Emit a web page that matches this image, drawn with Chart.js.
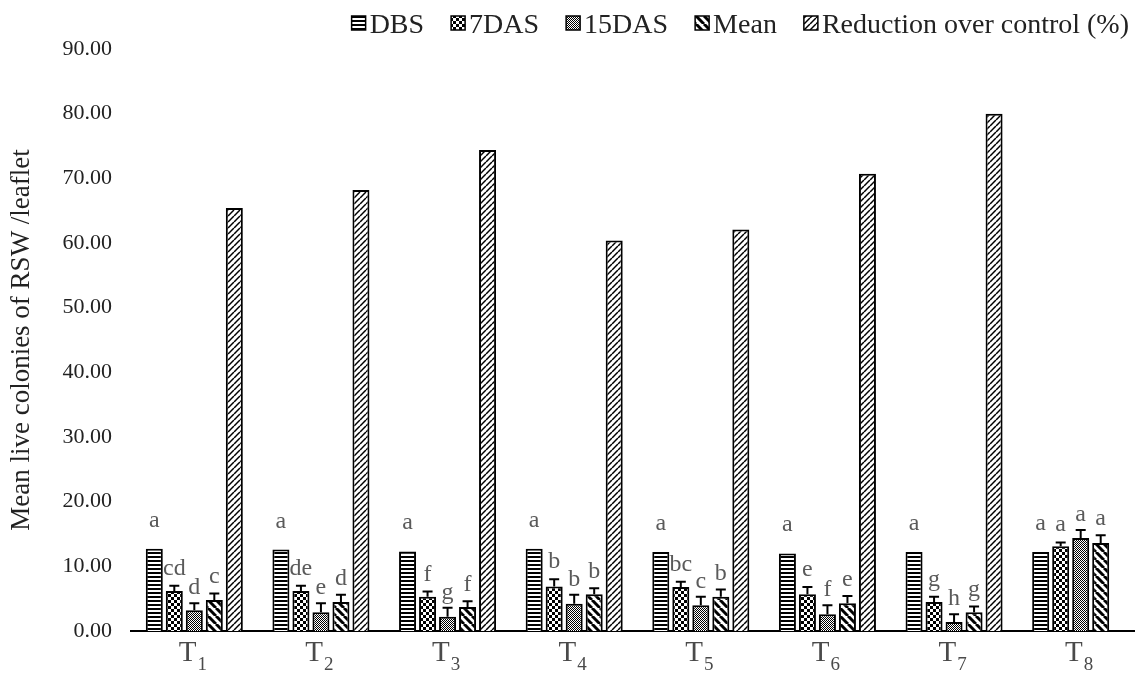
<!DOCTYPE html>
<html>
<head>
<meta charset="utf-8">
<script src="https://cdn.jsdelivr.net/npm/chart.js@4.4.1/dist/chart.umd.min.js"></script>
<style>
  html, body { margin: 0; padding: 0; background: #fff; overflow: hidden; }
  #wrap { width: 1146px; height: 673px; }
</style>
</head>
<body>
<div id="wrap"><canvas id="chart" width="1146" height="673"></canvas></div>
<script>
// treatment subscripts (T1..T8)
const treatments = ['1', '2', '3', '4', '5', '6', '7', '8'];

const dbs       = [12.7, 12.6, 12.3, 12.7, 12.2, 12.0, 12.2, 12.2];
const das7      = [6.2, 6.2, 5.3, 6.9, 6.8, 5.7, 4.5, 13.1];
const das15     = [3.2, 2.9, 2.2, 4.2, 4.0, 2.6, 1.4, 14.4];
const meanVals  = [4.8, 4.5, 3.7, 5.7, 5.3, 4.3, 2.9, 13.6];
const reduction = [65.4, 68.2, 74.4, 60.4, 62.1, 70.7, 80.0, null];

const err7    = [0.8, 0.8, 0.8, 1.1, 0.8, 1.1, 0.8, 0.6];
const err15   = [1.1, 1.4, 1.4, 1.4, 1.3, 1.4, 1.2, 1.2];
const errMean = [1.0, 1.1, 0.9, 0.9, 1.1, 1.1, 0.9, 1.2];

const letDbs  = ['a', 'a', 'a', 'a', 'a', 'a', 'a', 'a'];
const let7    = ['cd', 'de', 'f', 'b', 'bc', 'e', 'g', 'a'];
const let15   = ['d', 'e', 'g', 'b', 'c', 'f', 'h', 'a'];
const letMean = ['c', 'd', 'f', 'b', 'b', 'e', 'g', 'a'];

const yTicks = [0, 10, 20, 30, 40, 50, 60, 70, 80, 90];

const SERIF = "'Liberation Serif', 'Times New Roman', serif";

function makePattern(size, draw) {
    const c = document.createElement('canvas');
    c.width = size; c.height = size;
    const g = c.getContext('2d');
    g.fillStyle = '#fff';
    g.fillRect(0, 0, size, size);
    g.fillStyle = '#000';
    g.strokeStyle = '#000';
    draw(g, size);
    return document.getElementById('chart').getContext('2d').createPattern(c, 'repeat');
}

const patHoriz = makePattern(4, (g, s) => { g.fillRect(0, 0, s, 2); });
const patCheck = makePattern(6, (g, s) => { g.fillRect(0, 0, 3, 3); g.fillRect(3, 3, 3, 3); });
const patFine = makePattern(2, (g, s) => { g.fillRect(0, 0, 1, 1); g.fillRect(1, 1, 1, 1); });
const patDown = makePattern(8, (g, s) => {
    g.lineWidth = 3;
    for (const o of [-s, 0, s]) {
        g.beginPath(); g.moveTo(o, 0); g.lineTo(o + s, s); g.stroke();
    }
});
const patUp = makePattern(6, (g, s) => {
    g.lineWidth = 1.5;
    for (const o of [-s, 0, s]) {
        g.beginPath(); g.moveTo(o, s); g.lineTo(o + s, 0); g.stroke();
    }
});

function barSet(label, data, pattern, errors, letters, labelGap) {
    return {
        label: label,
        data: data,
        backgroundColor: pattern,
        borderColor: '#000',
        borderWidth: 2,
        borderSkipped: 'bottom',
        errors: errors,
        letters: letters,
        labelGap: labelGap
    };
}

const errorBars = {
    id: 'errorBars',
    afterDatasetsDraw(chart) {
        const ctx = chart.ctx;
        const y = chart.scales.y;
        chart.data.datasets.forEach((ds, i) => {
            const meta = chart.getDatasetMeta(i);
            meta.data.forEach((bar, j) => {
                const v = ds.data[j];
                if (v == null) return;
                let top = bar.y;
                ctx.save();
                if (ds.errors) {
                    top = y.getPixelForValue(v + ds.errors[j]);
                    ctx.strokeStyle = '#000';
                    ctx.lineWidth = 2;
                    ctx.beginPath();
                    ctx.moveTo(bar.x, bar.y);
                    ctx.lineTo(bar.x, top);
                    ctx.moveTo(bar.x - 5, top);
                    ctx.lineTo(bar.x + 5, top);
                    ctx.stroke();
                }
                if (ds.letters) {
                    ctx.fillStyle = '#5a5a5a';
                    ctx.font = '24px ' + SERIF;
                    ctx.textAlign = 'center';
                    ctx.textBaseline = 'alphabetic';
                    ctx.fillText(ds.letters[j], bar.x, top - ds.labelGap);
                }
                ctx.restore();
            });
        });
    }
};

const xLabels = {
    id: 'xLabels',
    afterDraw(chart) {
        const ctx = chart.ctx;
        const x = chart.scales.x;
        ctx.save();
        ctx.fillStyle = '#4a4a4a';
        ctx.textBaseline = 'alphabetic';
        treatments.forEach((t, i) => {
            const cx = x.getPixelForValue(i);
            ctx.font = '29px ' + SERIF;
            const tw = ctx.measureText('T').width;
            ctx.font = '19px ' + SERIF;
            const sw = ctx.measureText(t).width;
            const left = cx - (tw + sw) / 2 - 2;
            ctx.font = '29px ' + SERIF;
            ctx.textAlign = 'left';
            ctx.fillText('T', left, 661);
            ctx.font = '19px ' + SERIF;
            ctx.fillText(t, left + tw + 1, 670);
        });
        ctx.restore();
    }
};

// legend drawn right-aligned at the top, box then text close together
const topLegend = {
    id: 'topLegend',
    afterDraw(chart) {
        const ctx = chart.ctx;
        const right = 1129, gap = 27, box = 14, boxGap = 4, baseY = 33;
        ctx.save();
        ctx.font = '28px ' + SERIF;
        ctx.textBaseline = 'alphabetic';
        ctx.textAlign = 'left';
        const items = chart.data.datasets.map(ds => ({
            ds: ds, w: ctx.measureText(ds.label).width
        }));
        let total = 0;
        items.forEach(it => { total += box + boxGap + it.w; });
        total += gap * (items.length - 1);
        let x = right - total;
        items.forEach(it => {
            ctx.fillStyle = it.ds.backgroundColor;
            ctx.fillRect(x, baseY - 17, box, box);
            ctx.strokeStyle = '#000';
            ctx.lineWidth = 1.5;
            ctx.strokeRect(x, baseY - 17, box, box);
            ctx.fillStyle = '#222';
            ctx.fillText(it.ds.label, x + box + boxGap, baseY);
            x += box + boxGap + it.w + gap;
        });
        ctx.restore();
    }
};

new Chart(document.getElementById('chart'), {
    type: 'bar',
    data: {
        labels: treatments.map(t => 'T' + t),
        datasets: [
            barSet('DBS', dbs, patHoriz, null, letDbs, 22),
            barSet('7DAS', das7, patCheck, err7, let7, 11),
            barSet('15DAS', das15, patFine, err15, let15, 9),
            barSet('Mean', meanVals, patDown, errMean, letMean, 10),
            barSet('Reduction over control (%)', reduction, patUp, null, null, 0)
        ]
    },
    options: {
        responsive: false,
        animation: false,
        devicePixelRatio: 1,
        datasets: {
            bar: {
                categoryPercentage: 0.79,
                barPercentage: 0.85
            }
        },
        layout: {
            padding: { top: 49, right: 2, left: 0, bottom: 0 }
        },
        plugins: {
            legend: { display: false },
            tooltip: { enabled: false }
        },
        scales: {
            x: {
                grid: { display: false },
                border: { display: true, color: '#000', width: 2 },
                ticks: { display: false },
                afterFit(scale) { scale.height = 42; }
            },
            y: {
                min: 0,
                max: 90,
                afterBuildTicks(scale) { scale.ticks = yTicks.map(v => ({ value: v })); },
                grid: { display: false },
                border: { display: false },
                ticks: {
                    padding: 11,
                    color: '#222',
                    font: { size: 22, family: SERIF },
                    callback: v => v.toFixed(2)
                },
                title: {
                    display: true,
                    text: 'Mean live colonies of RSW /leaflet',
                    color: '#222',
                    font: { size: 27, family: SERIF },
                    padding: { top: 6 }
                },
                afterFit(scale) { scale.width = 131; }
            }
        }
    },
    plugins: [errorBars, xLabels, topLegend]
});
</script>
</body>
</html>
